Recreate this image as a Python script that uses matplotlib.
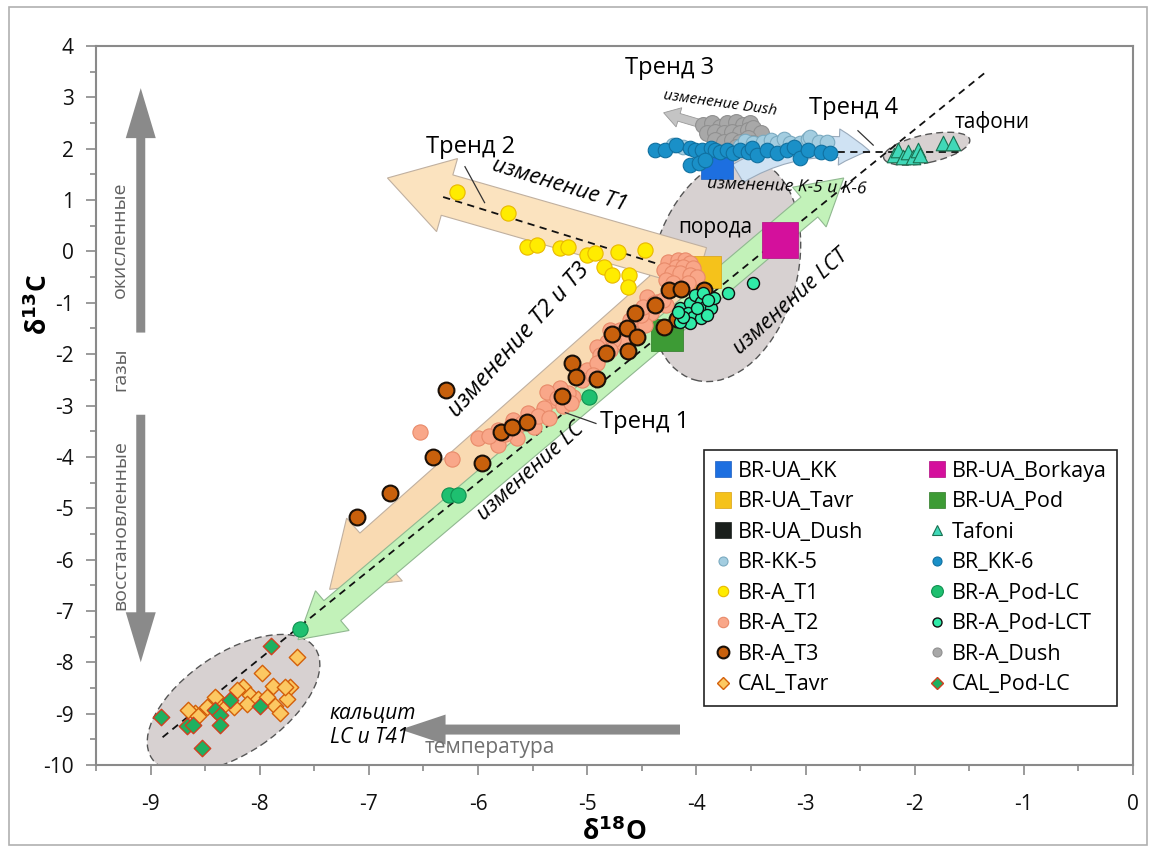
import numpy as np
import matplotlib
matplotlib.use("Agg")
import matplotlib.pyplot as plt
import matplotlib.patches as mpatches
import matplotlib.transforms as mtransforms
from matplotlib.lines import Line2D

plt.rcParams['font.family'] = ['Open Sans', 'DejaVu Sans']
plt.rcParams['axes.unicode_minus'] = False
plt.rcParams['mathtext.default'] = 'bf'

# ---- data (d18O, d13C) ----
ua_kk = [(-3.81, 1.72)]
ua_borkaya = [(-3.23, 0.23)]
ua_tavr = [(-3.92, -0.40)]
ua_pod = [(-4.27, -1.62)]
ua_dush = []
tafoni = [(-2.19, 1.88), (-2.15, 1.98), (-2.11, 1.84), (-2.06, 1.94), (-2.02, 1.84),
          (-1.97, 1.98), (-1.95, 1.88), (-1.74, 2.11), (-1.65, 2.11)]
kk5 = [(-4.21, 2.07), (-4.12, 2.03), (-3.60, 2.05), (-3.55, 2.15), (-3.48, 2.11), (-3.39, 2.13),
       (-3.32, 2.17), (-3.26, 2.11), (-3.20, 2.19), (-3.14, 2.11), (-3.05, 2.11), (-2.98, 2.19),
       (-2.96, 2.23), (-2.88, 2.13), (-2.80, 2.13)]
kk6 = [(-4.38, 1.98), (-4.29, 1.98), (-4.19, 2.07), (-4.06, 2.02), (-4.01, 1.98), (-3.95, 1.98),
       (-3.87, 2.02), (-3.83, 1.98), (-3.78, 1.94), (-3.72, 1.98), (-3.66, 1.92), (-3.60, 1.98),
       (-3.53, 1.94), (-3.49, 2.02), (-3.44, 1.88), (-3.35, 1.98), (-3.26, 1.92), (-3.17, 1.98),
       (-3.11, 2.04), (-3.05, 1.82), (-2.98, 1.98), (-2.86, 1.94), (-2.78, 1.92), (-4.06, 1.68),
       (-3.98, 1.72), (-3.92, 1.78)]
a_dush = [(-3.94, 2.46), (-3.86, 2.50), (-3.78, 2.42), (-3.72, 2.50), (-3.64, 2.52), (-3.57, 2.46),
          (-3.51, 2.50), (-3.90, 2.31), (-3.83, 2.33), (-3.75, 2.31), (-3.67, 2.33), (-3.60, 2.31),
          (-3.53, 2.37), (-3.48, 2.40), (-3.41, 2.31), (-3.83, 2.17), (-3.75, 2.13), (-3.67, 2.17),
          (-3.60, 2.13), (-3.53, 2.21), (-3.48, 2.11), (-3.64, 2.04), (-3.57, 2.02)]
t1 = [(-6.19, 1.16), (-5.73, 0.75), (-5.55, 0.09), (-5.46, 0.13), (-5.25, 0.07), (-5.18, 0.09),
      (-5.00, -0.07), (-4.93, -0.03), (-4.72, -0.01), (-4.47, 0.03), (-4.85, -0.30), (-4.77, -0.46),
      (-4.62, -0.46), (-4.63, -0.69)]
t2 = [(-4.26, -0.20), (-4.17, -0.16), (-4.10, -0.16), (-4.06, -0.22), (-4.19, -0.30), (-4.12, -0.30),
      (-4.03, -0.32), (-4.30, -0.36), (-4.22, -0.42), (-4.15, -0.42), (-4.06, -0.46), (-3.99, -0.49),
      (-4.28, -0.55), (-4.21, -0.61), (-4.08, -0.61), (-4.45, -0.88), (-4.36, -0.98), (-4.28, -1.04),
      (-4.50, -1.14), (-4.42, -1.19), (-4.54, -1.33), (-4.47, -1.43), (-4.79, -1.53), (-4.70, -1.53),
      (-4.58, -1.58), (-4.82, -1.76), (-4.67, -1.78), (-4.91, -1.86), (-4.76, -1.72), (-4.88, -2.01),
      (-4.79, -1.91), (-5.00, -2.30), (-4.91, -2.17), (-4.82, -1.97), (-4.61, -1.33), (-4.51, -1.23),
      (-4.49, -1.08), (-4.39, -1.00), (-4.31, -0.94), (-5.13, -2.83), (-5.18, -2.75), (-5.25, -2.65),
      (-5.31, -2.89), (-5.37, -2.73), (-5.49, -3.41), (-5.54, -3.14), (-5.64, -3.63), (-5.68, -3.28),
      (-5.82, -3.47), (-5.82, -3.76), (-6.00, -3.63), (-6.24, -4.05), (-6.53, -3.51), (-5.28, -2.85),
      (-5.22, -3.00), (-5.15, -2.95), (-5.40, -3.05), (-5.45, -3.20), (-5.35, -3.25), (-5.60, -3.35),
      (-5.75, -3.55), (-5.70, -3.40), (-5.90, -3.60), (-5.05, -2.50), (-4.95, -2.40)]
t3 = [(-4.25, -0.75), (-4.14, -0.73), (-3.93, -0.75), (-4.38, -1.04), (-4.18, -1.31), (-4.30, -1.47),
      (-4.56, -1.19), (-4.64, -1.49), (-4.54, -1.66), (-4.77, -1.60), (-4.83, -1.97), (-4.63, -1.93),
      (-6.29, -2.69), (-6.41, -4.00), (-6.81, -4.70), (-7.11, -5.18), (-5.96, -4.11), (-5.79, -3.51),
      (-5.69, -3.41), (-5.55, -3.32), (-5.23, -2.81), (-5.14, -2.17), (-5.10, -2.44), (-4.91, -2.48)]
pod_lc = [(-7.63, -7.36), (-6.27, -4.74), (-6.18, -4.74), (-4.98, -2.83)]
pod_lct = [(-4.15, -1.10), (-4.06, -1.00), (-4.01, -0.84), (-3.96, -0.98), (-3.92, -1.08), (-3.87, -1.10),
           (-3.84, -0.90), (-4.08, -1.19), (-4.03, -1.27), (-3.96, -1.29), (-3.90, -1.23), (-4.06, -1.39),
           (-4.15, -1.37), (-3.99, -1.10), (-3.94, -0.81), (-3.89, -0.94), (-3.71, -0.81), (-3.48, -0.61),
           (-4.12, -1.27), (-4.17, -1.18)]
cal_tavr = [(-7.66, -7.89), (-7.98, -8.20), (-7.88, -8.47), (-7.72, -8.49), (-7.75, -8.72), (-8.15, -8.49),
            (-8.21, -8.53), (-8.09, -8.63), (-8.02, -8.72), (-7.93, -8.68), (-8.12, -8.82), (-7.86, -8.86),
            (-7.81, -8.98), (-8.24, -8.88), (-8.34, -8.86), (-8.39, -8.72), (-8.48, -8.88), (-8.59, -8.98),
            (-8.66, -8.92), (-8.57, -9.04), (-8.41, -8.68), (-7.77, -8.49)]
cal_pod = [(-8.90, -9.07), (-8.67, -9.25), (-8.61, -9.23), (-8.53, -9.66), (-8.41, -8.92), (-8.36, -9.02),
           (-8.36, -9.23), (-8.27, -8.74), (-8.00, -8.86), (-7.90, -7.69)]

# name, data, marker, size, face, edge, lw, legend marker size
series = {
    'BR-UA_KK': (ua_kk, 's', 560, '#1d6fe0', '#1d5fc0', 0.5, 11),
    'BR-UA_Tavr': (ua_tavr, 's', 560, '#f5c21b', '#d8a010', 0.5, 11),
    'BR-UA_Dush': (ua_dush, 's', 560, '#1a1f1c', '#1a1f1c', 0.5, 11),
    'BR-KK-5': (kk5, 'o', 110, '#a3cde0', '#7aaac0', 0.8, 6.5),
    'BR-A_T1': (t1, 'o', 120, '#ffec00', '#e8b800', 0.8, 7.5),
    'BR-A_T2': (t2, 'o', 120, '#f9a789', '#e88a6a', 0.8, 7.5),
    'BR-A_T3': (t3, 'o', 130, '#c8600c', '#1a1008', 1.5, 8.5),
    'CAL_Tavr': (cal_tavr, 'D', 70, '#fcc862', '#d4600a', 1.0, 6.5),
    'BR-UA_Borkaya': (ua_borkaya, 's', 700, '#d4109c', '#b00a80', 0.5, 11),
    'BR-UA_Pod': (ua_pod, 's', 560, '#3d9b35', '#2d7a25', 0.5, 11),
    'Tafoni': (tafoni, '^', 110, '#40d8b8', '#1a7050', 0.8, 7.5),
    'BR_KK-6': (kk6, 'o', 110, '#1a90c8', '#1070a0', 0.8, 6.5),
    'BR-A_Pod-LC': (pod_lc, 'o', 120, '#1ec070', '#109050', 0.8, 8.5),
    'BR-A_Pod-LCT': (pod_lct, 'o', 75, '#30eba8', '#101010', 1.0, 6.5),
    'BR-A_Dush': (a_dush, 'o', 130, '#a8a8a8', '#909090', 0.8, 6.5),
    'CAL_Pod-LC': (cal_pod, 'D', 70, '#1eb060', '#d04020', 1.0, 6.5),
}
draw_order = ['BR-UA_Tavr', 'BR-UA_Pod', 'BR-UA_Borkaya', 'BR-UA_KK', 'BR-UA_Dush', 'BR-A_Dush',
              'BR-KK-5', 'BR_KK-6', 'Tafoni', 'BR-A_T1', 'BR-A_T2', 'BR-A_T3', 'BR-A_Pod-LC',
              'BR-A_Pod-LCT', 'CAL_Tavr', 'CAL_Pod-LC']

fig = plt.figure(figsize=(11.56, 8.52), dpi=100)
ax = fig.add_axes([96 / 1156, 87 / 852, 1037 / 1156, 719 / 852])
ax.set_xlim(-9.5, 0)
ax.set_ylim(-10, 4)
fig.add_artist(mpatches.Rectangle((0.008, 0.008), 0.984, 0.984, transform=fig.transFigure,
                                  fill=False, ec='#b0b0b0', lw=1.2))

for s in ax.spines.values():
    s.set_color('#8a8a8a')
    s.set_linewidth(1.5)
ax.set_xticks(np.arange(-9, 0.1, 1))
ax.set_xticks(np.arange(-9.5, 0.1, 0.5), minor=True)
ax.set_yticks(np.arange(-10, 4.1, 1))
ax.set_yticks(np.arange(-10, 4.1, 0.5), minor=True)
ax.set_xticklabels([str(int(v)) for v in np.arange(-9, 0.1, 1)])
ax.set_yticklabels([str(int(v)) for v in np.arange(-10, 4.1, 1)])
ax.tick_params(which='both', direction='out', color='#8a8a8a', width=1.2, labelsize=15, labelcolor='#111')
ax.tick_params(which='major', length=7)
ax.tick_params(axis='x', which='major', pad=14)
ax.tick_params(axis='y', which='major', pad=9)
ax.tick_params(which='minor', length=4)
ax.set_xlabel('δ$^{18}$O', fontsize=19, fontweight='bold', labelpad=2)
ax.set_ylabel('δ$^{13}$C', fontsize=19, fontweight='bold')
ax.yaxis.set_label_coords(-0.041, 0.64)


def ellipse(cx, cy, w, h, ang):
    tr = fig.dpi_scale_trans + mtransforms.ScaledTranslation(cx, cy, ax.transData)
    ax.add_patch(mpatches.Ellipse((0, 0), w / 100, h / 100, angle=ang, transform=tr,
                                  fc='#d7d1d1', ec='#555555', lw=1.0, ls=(0, (5, 3)), zorder=1))


ellipse(-8.24, -8.80, 197, 100, 34)
ellipse(-3.74, -0.36, 145, 228, -15)
ellipse(-1.89, 2.00, 88, 28, 12)


def band_arrow(tail, tip, body, head_w, head_l, double=False, **kw):
    a = ax.transData.transform(tail)
    b = ax.transData.transform(tip)
    d = b - a
    u = d / np.hypot(*d)
    n = np.array([-u[1], u[0]])
    hb, hh = body / 2, head_w / 2
    if double:
        pts = [a, a + u * head_l + n * hh, a + u * head_l + n * hb, b - u * head_l + n * hb,
               b - u * head_l + n * hh, b, b - u * head_l - n * hh, b - u * head_l - n * hb,
               a + u * head_l - n * hb, a + u * head_l - n * hh]
    else:
        pts = [a + n * hb, b - u * head_l + n * hb, b - u * head_l + n * hh, b,
               b - u * head_l - n * hh, b - u * head_l - n * hb, a - n * hb]
    ax.add_patch(mpatches.Polygon(pts, closed=True, transform=mtransforms.IdentityTransform(), **kw))


band_arrow((-4.06, -0.36), (-7.36, -6.58), 44, 84, 60, fc='#f9dab2', ec='#c0b0a0', lw=0.8, zorder=2)
band_arrow((-3.96, -0.32), (-6.83, 1.43), 42, 76, 62, fc='#fbe3bf', ec='#c0b0a0', lw=0.8, zorder=2)
band_arrow((-7.65, -7.56), (-2.65, 1.43), 26, 52, 45, double=True, fc='#c2f2b9', ec='#90b890',
           lw=0.8, zorder=2)
band_arrow((-3.92, 2.46), (-4.30, 2.70), 8, 20, 16, fc='#c4c4c4', ec='#999999', lw=0.6, zorder=2)
band_arrow((-9.09, -1.58), (-9.09, 3.18), 9, 30, 50, fc='#8a8a8a', ec='none', zorder=2)
band_arrow((-9.09, -3.18), (-9.09, -8.00), 9, 30, 50, fc='#8a8a8a', ec='none', zorder=2)
band_arrow((-4.15, -9.31), (-6.71, -9.31), 10, 30, 45, fc='#8a8a8a', ec='none', zorder=2)
ax.add_patch(mpatches.FancyArrowPatch((-3.64, 1.49), (-2.39, 1.95), connectionstyle='arc3,rad=-0.2',
                                      arrowstyle=mpatches.ArrowStyle.Simple(head_length=22, head_width=26,
                                                                            tail_width=15),
                                      fc='#cfe2f3', ec='#9aaabb', lw=0.8, zorder=2))

# dashed trend lines
ax.plot([-8.89, -1.35], [-9.46, 3.49], ls=(0, (4, 3)), color='#111', lw=1.3, zorder=3)
ax.plot([-4.44, -1.58], [1.94, 1.94], ls=(0, (4, 3)), color='#111', lw=1.3, zorder=3)
ax.plot([-6.32, -3.95], [1.06, -0.51], ls=(0, (4, 3)), color='#111', lw=1.3, zorder=3)

z = 4
for name in draw_order:
    pts, m, size, fc, ec, lw, _ = series[name]
    if pts:
        arr = np.array(pts)
        ax.scatter(arr[:, 0], arr[:, 1], marker=m, s=size, fc=fc, ec=ec, lw=lw, zorder=z)
    z += 0.1

# labels
ax.text(-4.88, -3.33, 'Тренд 1', fontsize=17, va='center', zorder=8)
ax.plot([-5.20, -4.92], [-3.14, -3.35], color='#333', lw=0.9, zorder=8)
ax.text(-6.48, 2.03, 'Тренд 2', fontsize=17, va='center', zorder=8)
ax.plot([-6.12, -5.94], [1.65, 0.95], color='#333', lw=0.9, zorder=8)
ax.text(-4.65, 3.57, 'Тренд 3', fontsize=17, va='center', zorder=8)
ax.text(-2.97, 2.79, 'Тренд 4', fontsize=17, va='center', zorder=8)
ax.plot([-2.52, -2.38], [2.35, 2.07], color='#333', lw=0.9, zorder=8)
ax.text(-1.63, 2.52, 'тафони', fontsize=15, va='center', zorder=8)
ax.text(-4.17, 0.46, 'порода', fontsize=15, va='center', zorder=8)
ax.text(-3.78, 2.89, 'изменение Dush', fontsize=11, style='italic', rotation=-8,
        ha='center', va='center', zorder=8)
ax.text(-3.17, 1.26, 'изменение K-5 и K-6', fontsize=12.5, style='italic', rotation=-2,
        ha='center', va='center', zorder=8)
ax.text(-5.25, 1.28, 'изменение T1', fontsize=16, style='italic', rotation=-17,
        ha='center', va='center', zorder=8)
ax.text(-5.62, -1.72, 'изменение T2 и T3', fontsize=17, style='italic', rotation=48,
        ha='center', va='center', zorder=8)
ax.text(-5.52, -4.29, 'изменение LC', fontsize=15.5, style='italic', rotation=42,
        ha='center', va='center', zorder=8)
ax.text(-3.14, -0.98, 'изменение LCT', fontsize=15.5, style='italic', rotation=42,
        ha='center', va='center', zorder=8)
ax.text(-7.36, -9.0, 'кальцит', fontsize=15, style='italic', va='center', zorder=8)
ax.text(-7.36, -9.46, 'LC и T41', fontsize=15, style='italic', va='center', zorder=8)
ax.text(-5.89, -9.66, 'температура', fontsize=15, color='#707070', ha='center', va='center', zorder=8)
ax.text(-9.28, 0.23, 'окисленные', fontsize=14, color='#606060', rotation=90,
        ha='center', va='center', zorder=8)
ax.text(-9.28, -2.30, 'газы', fontsize=14, color='#606060', rotation=90,
        ha='center', va='center', zorder=8)
ax.text(-9.28, -5.32, 'восстановленные', fontsize=14, color='#606060', rotation=90,
        ha='center', va='center', zorder=8)

handles = []
for name in series:
    pts, m, size, fc, ec, lw, ms = series[name]
    handles.append(Line2D([], [], ls='none', marker=m, ms=ms, mfc=fc, mec=ec, mew=lw, label=name))
leg = ax.legend(handles=handles, ncol=2, loc='upper right', bbox_to_anchor=(0.985, 0.438),
                fontsize=15.5, frameon=True, fancybox=False, edgecolor='#222', framealpha=1,
                handlelength=0.8, handletextpad=0.3, labelspacing=0.44, columnspacing=3.0,
                borderpad=0.5, borderaxespad=0)
leg.get_frame().set_linewidth(1.2)
leg.set_zorder(10)

fig.savefig('out.png', dpi=100)
